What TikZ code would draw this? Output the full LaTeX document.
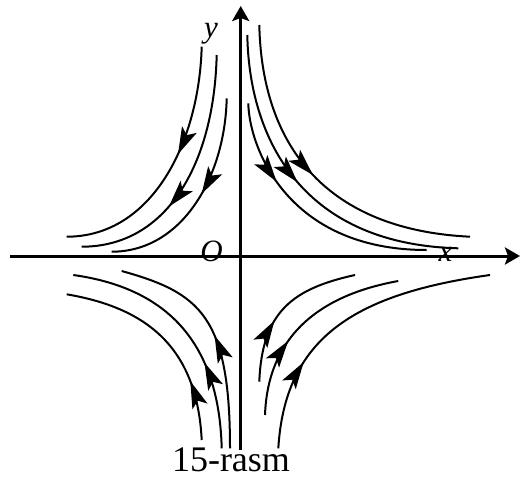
\documentclass[tikz,border=0pt]{standalone}
\usepackage{fontspec}
\setmainfont{Liberation Serif}
\usetikzlibrary{arrows.meta,decorations.markings}
\begin{document}
\begin{tikzpicture}[x=1pt,y=-1pt,
  axis/.style={line width=3pt,-{Stealth[length=15pt,width=17pt,inset=3pt]}},
  flow/.style={line width=2pt},
  fwd/.style={postaction={decorate},decoration={markings,mark=at position #1 with {\arrow{Stealth[length=27pt,width=16pt,inset=6pt]}}}},
  bwd/.style={postaction={decorate},decoration={markings,mark=at position #1 with {\arrowreversed{Stealth[length=27pt,width=16pt,inset=6pt]}}}},
  lab/.style={inner sep=0pt, font=\fontsize{31}{31}\selectfont\itshape}]
\useasboundingbox (0,0) rectangle (521,479);
% axes
\draw[axis] (10,256) -- (520,256);
\draw[axis] (240.7,450) -- (240.7,6);
% labels
\node[lab] (ylab) at (211,34) {y};
\node[lab] (olab) at (211.5,251) {O};
\node[lab] (xlab) at (445.5,254.5) {x};
\node[inner sep=0pt, anchor=base, font=\fontsize{36}{36}\selectfont] (cap) at (231,471.7) {15-rasm};
% upper left
\draw[flow,fwd=0.43] (201.7,46.7) .. controls (199,143.5) and (151.5,236.7) .. (66.7,236.7);
\draw[flow,fwd=0.62] (216.7,55) .. controls (214,164.7) and (166.5,246.7) .. (81.7,246.7);
\draw[flow,fwd=0.47] (226.7,98.3) .. controls (225,176.7) and (182.2,251.7) .. (111.7,251.7);
% upper right
\draw[flow,fwd=0.33] (248.3,103.3) .. controls (249,145.6) and (286,250) .. (426.7,250);
\draw[flow,fwd=0.47] (247.3,35) .. controls (249,133) and (297.1,244) .. (458.3,248.3);
\draw[flow,fwd=0.485] (259.3,25) .. controls (262,150) and (330,230) .. (470,236.7);
% lower left
\draw[flow,bwd=0.507] (121.7,271) .. controls (199.4,292.7) and (230,315.5) .. (230,448.3);
\draw[flow,bwd=0.653] (73.3,275) .. controls (162.7,287.5) and (219,338.1) .. (221.7,448.3);
\draw[flow,bwd=0.725] (66.7,294.3) .. controls (145.5,307.7) and (197,346.2) .. (201.7,440);
% lower right
\draw[flow,bwd=0.60] (355,275) .. controls (293.2,288.6) and (262,311.2) .. (259.3,381.7);
\draw[flow,bwd=0.62] (398.3,281) .. controls (324.2,294.3) and (268,332.4) .. (265,415);
\draw[flow,bwd=0.70] (490,275) .. controls (352.2,294.3) and (285,339.3) .. (278.3,448.3);
\end{tikzpicture}
\end{document}
